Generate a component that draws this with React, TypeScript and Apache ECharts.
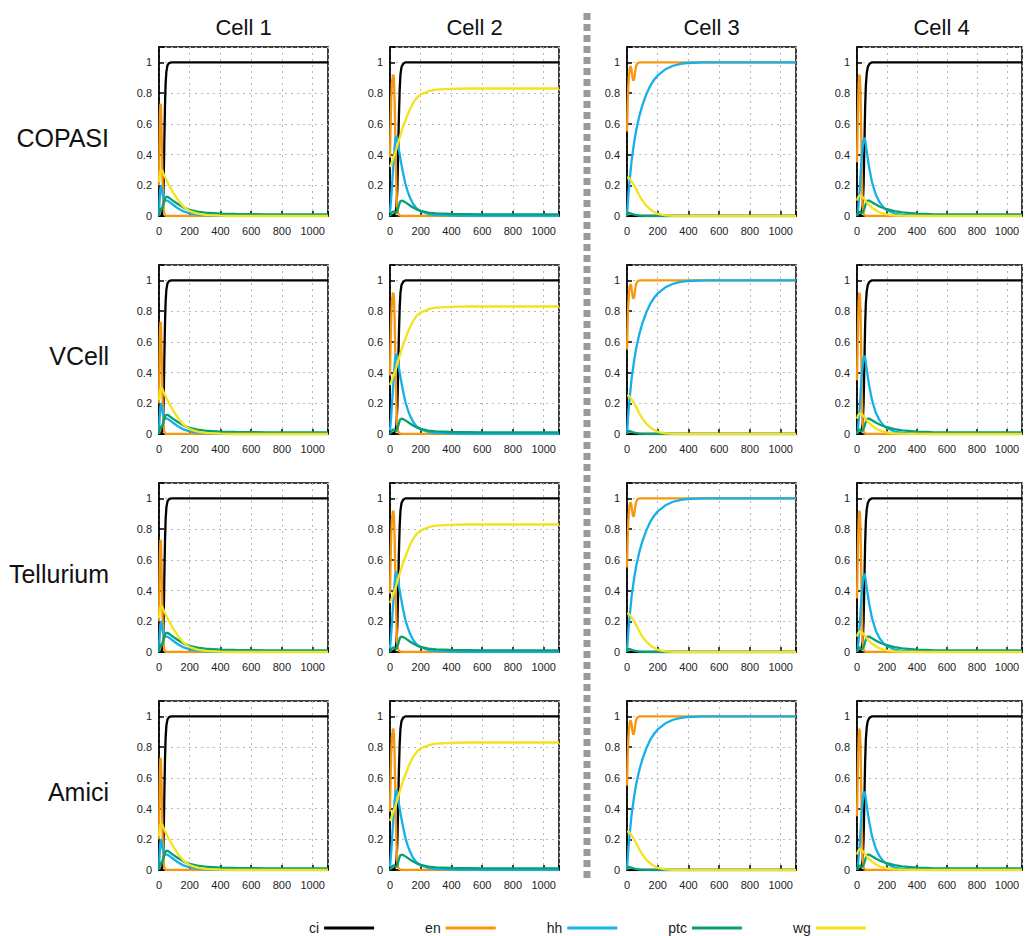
import React, { useEffect, useRef } from "react";
import * as echarts from "echarts";

// Column (cell) titles and row (simulator) labels
const cellTitles = ["Cell 1", "Cell 2", "Cell 3", "Cell 4"];
const simulators = ["COPASI", "VCell", "Tellurium", "Amici"];
const speciesNames = ["ci", "en", "hh", "ptc", "wg"];
const speciesColors = ["#000000", "#f7960f", "#15b0ea", "#07a070", "#f3e21c"];
const xTicks = [0, 200, 400, 600, 800, 1000];
const yTicks = [0, 0.2, 0.4, 0.6, 0.8, 1];

// Cell 1 time courses [t, value]
const ci1 = [[0,0],[15,0.005],[22,0.02],[27,0.08],[31,0.25],[35,0.5],[39,0.72],[43,0.86],[48,0.94],[55,0.98],[65,0.995],[80,1],[1100,1]];
const en1 = [[0,0.2],[3,0.45],[6,0.65],[9,0.73],[12,0.72],[16,0.6],[20,0.4],[24,0.2],[28,0.08],[33,0.02],[40,0.003],[60,0],[1100,0]];
const hh1 = [[0,0],[4,0.1],[8,0.17],[12,0.2],[16,0.19],[22,0.15],[28,0.12],[35,0.105],[45,0.1],[55,0.1],[70,0.09],[90,0.075],[120,0.052],[160,0.03],[200,0.017],[250,0.009],[300,0.005],[400,0.001],[500,0],[1100,0]];
const ptc1 = [[0,0],[5,0.03],[10,0.05],[16,0.045],[22,0.05],[30,0.08],[38,0.11],[46,0.125],[55,0.125],[70,0.115],[90,0.1],[120,0.08],[160,0.055],[200,0.04],[250,0.029],[300,0.022],[400,0.016],[500,0.013],[700,0.011],[1100,0.01]];
const wg1 = [[0,0.22],[5,0.27],[10,0.295],[16,0.3],[24,0.29],[35,0.26],[50,0.23],[65,0.2],[80,0.175],[100,0.14],[130,0.095],[160,0.06],[200,0.032],[250,0.015],[300,0.007],[400,0.002],[500,0],[1100,0]];

// Cell 2
const ci2 = [[0,0],[25,0.005],[35,0.02],[42,0.06],[48,0.18],[53,0.4],[58,0.65],[63,0.82],[68,0.92],[75,0.97],[85,0.99],[100,1],[1100,1]];
const en2 = [[0,0.38],[4,0.6],[8,0.76],[13,0.87],[18,0.91],[22,0.92],[26,0.88],[30,0.75],[34,0.55],[38,0.35],[42,0.18],[46,0.07],[52,0.02],[60,0.004],[80,0],[1100,0]];
const hh2 = [[0,0.02],[5,0.08],[10,0.15],[15,0.23],[20,0.3],[25,0.38],[30,0.45],[35,0.5],[40,0.52],[45,0.51],[55,0.45],[70,0.36],[85,0.28],[100,0.21],[115,0.16],[130,0.12],[150,0.08],[170,0.052],[200,0.03],[250,0.013],[300,0.006],[400,0.002],[500,0],[1100,0]];
const ptc2 = [[0,0],[8,0.015],[15,0.025],[22,0.03],[30,0.025],[40,0.02],[50,0.04],[58,0.07],[66,0.095],[75,0.1],[90,0.095],[110,0.082],[130,0.068],[150,0.055],[175,0.042],[200,0.033],[250,0.022],[300,0.017],[400,0.013],[600,0.011],[1100,0.01]];
const wg2 = [[0,0.32],[20,0.37],[40,0.43],[60,0.5],[80,0.565],[100,0.62],[125,0.685],[150,0.735],[175,0.77],[200,0.792],[250,0.812],[300,0.823],[400,0.828],[500,0.83],[1100,0.83]];

// Cell 3
const ci3 = [[0,0],[1100,0]];
const en3 = [[0,0.55],[4,0.72],[8,0.84],[13,0.92],[18,0.96],[23,0.975],[28,0.96],[33,0.92],[38,0.89],[43,0.88],[48,0.9],[53,0.94],[58,0.97],[65,0.99],[75,0.998],[90,1],[1100,1]];
const hh3 = [[0,0],[5,0.08],[10,0.15],[20,0.26],[30,0.36],[45,0.47],[60,0.56],[80,0.65],[100,0.72],[125,0.79],[150,0.845],[175,0.885],[200,0.915],[250,0.955],[300,0.978],[350,0.99],[400,0.996],[500,1],[1100,1]];
const ptc3 = [[0,0],[4,0.015],[10,0.02],[20,0.018],[35,0.012],[55,0.007],[80,0.003],[120,0.001],[200,0],[1100,0]];
const wg3 = [[0,0.25],[10,0.25],[20,0.24],[30,0.225],[40,0.21],[60,0.175],[80,0.135],[100,0.1],[130,0.062],[160,0.036],[200,0.014],[250,0.004],[300,0.001],[400,0],[1100,0]];

// Cell 4
const ci4 = [[0,0],[20,0.005],[30,0.02],[38,0.07],[44,0.2],[49,0.45],[54,0.7],[59,0.85],[65,0.93],[72,0.97],[82,0.99],[100,1],[1100,1]];
const en4 = [[0,0.35],[4,0.58],[8,0.76],[12,0.87],[16,0.92],[20,0.9],[24,0.78],[28,0.55],[32,0.3],[36,0.12],[40,0.04],[46,0.01],[60,0],[1100,0]];
const hh4 = [[0,0],[5,0.02],[10,0.07],[18,0.17],[26,0.3],[34,0.41],[42,0.49],[48,0.51],[55,0.49],[65,0.42],[80,0.32],[100,0.22],[125,0.14],[150,0.09],[175,0.058],[200,0.037],[250,0.016],[300,0.007],[400,0.002],[500,0],[1100,0]];
const ptc4 = [[0,0],[6,0.02],[12,0.03],[20,0.025],[30,0.02],[40,0.025],[50,0.05],[60,0.085],[70,0.1],[80,0.1],[100,0.09],[125,0.075],[150,0.062],[175,0.052],[200,0.044],[250,0.032],[300,0.024],[400,0.016],[500,0.012],[700,0.011],[1100,0.01]];
const wg4 = [[0,0.1],[6,0.12],[12,0.13],[20,0.135],[30,0.13],[45,0.115],[60,0.095],[80,0.072],[100,0.054],[130,0.034],[160,0.02],[200,0.01],[250,0.004],[300,0.002],[400,0],[1100,0]];

const cellData = [
  [ci1, en1, hh1, ptc1, wg1],
  [ci2, en2, hh2, ptc2, wg2],
  [ci3, en3, hh3, ptc3, wg3],
  [ci4, en4, hh4, ptc4, wg4],
];

const FONT = '"Liberation Sans", Arial, sans-serif';
const colLefts = [159, 390, 627, 857];
const rowTops = [47, 265, 483, 701];
const PW = 169;
const PH = 169;

export default function App() {
  const ref = useRef<HTMLDivElement>(null);
  useEffect(() => {
    if (!ref.current) return;
    const chart = echarts.init(ref.current, undefined, { renderer: "svg" });
    const grids: any[] = [];
    const xAxes: any[] = [];
    const yAxes: any[] = [];
    const series: any[] = [];
    let gi = 0;
    for (let r = 0; r < 4; r++) {
      for (let c = 0; c < 4; c++) {
        grids.push({
          left: colLefts[c], top: rowTops[r], width: PW, height: PH,
          show: true, borderColor: "#000", borderWidth: 1.5, backgroundColor: "transparent",
        });
        xAxes.push({
          type: "value", gridIndex: gi, min: 0, max: 1100, interval: 200,
          axisLine: { show: true, lineStyle: { color: "#000", width: 1.5 } },
          axisTick: { show: true, inside: true, length: 5, lineStyle: { color: "#000", width: 1.5 } },
          axisLabel: {
            margin: 9, fontSize: 11, color: "#222", fontFamily: FONT,
            formatter: (v: number) => (v > 1050 ? "" : String(Math.round(v))),
          },
          splitLine: { show: true, lineStyle: { color: "#b8b8b8", type: [2, 4], width: 1 } },
        });
        yAxes.push({
          type: "value", gridIndex: gi, min: 0, max: 1.1, interval: 0.2,
          axisLine: { show: true, lineStyle: { color: "#000", width: 1.5 } },
          axisTick: { show: true, inside: true, length: 5, lineStyle: { color: "#000", width: 1.5 } },
          axisLabel: {
            margin: 7, fontSize: 11, color: "#222", fontFamily: FONT,
            formatter: (v: number) => (v > 1.05 ? "" : String(Math.round(v * 10) / 10)),
          },
          splitLine: { show: true, lineStyle: { color: "#b8b8b8", type: [2, 4], width: 1 } },
        });
        speciesNames.forEach((name, k) => {
          series.push({
            type: "line", name, xAxisIndex: gi, yAxisIndex: gi,
            data: cellData[c][k], showSymbol: false, symbol: "none",
            color: speciesColors[k],
            lineStyle: { width: 2.3, color: speciesColors[k] },
            clip: true,
          });
        });
        gi++;
      }
    }
    const graphics: any[] = [];
    cellTitles.forEach((t, c) => {
      graphics.push({
        type: "text", x: colLefts[c] + PW / 2, y: 27,
        style: { text: t, font: `22px ${FONT}`, fill: "#111", align: "center", verticalAlign: "middle", textAlign: "center", textVerticalAlign: "middle" },
      });
    });
    simulators.forEach((s, r) => {
      graphics.push({
        type: "text", x: 109, y: rowTops[r] + PH / 2 + 6,
        style: { text: s, font: `25px ${FONT}`, fill: "#111", align: "right", verticalAlign: "middle", textAlign: "right", textVerticalAlign: "middle" },
      });
    });
    graphics.push({
      type: "line",
      shape: { x1: 587, y1: 13, x2: 587, y2: 882 },
      style: { stroke: "#9a9a9a", lineWidth: 7, lineDash: [7, 4] },
    });
    chart.setOption({
      animation: false,
      backgroundColor: "#fff",
      grid: grids,
      xAxis: xAxes,
      yAxis: yAxes,
      series,
      graphic: graphics,
      legend: {
        data: speciesNames,
        left: 304, top: 916,
        align: "right",
        icon: "rect",
        itemWidth: 50, itemHeight: 3, itemGap: 51,
        selectedMode: false,
        textStyle: { fontSize: 14, color: "#222", fontFamily: FONT },
      },
    });
    return () => chart.dispose();
  }, []);
  return (
    <div
      ref={ref}
      style={{ position: "fixed", left: 0, top: 0, width: 1025, height: 936, background: "#fff" }}
    />
  );
}
